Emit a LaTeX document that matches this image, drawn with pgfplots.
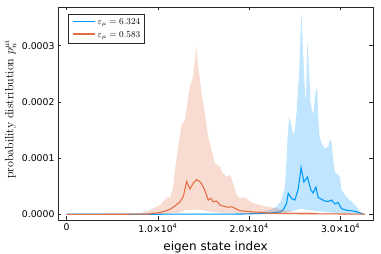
\documentclass[border=0pt]{standalone}
\usepackage{pgfplots}
\pgfplotsset{compat=1.18}
\usepackage{fontspec}
\newfontfamily\dejavu{DejaVu Sans}
\definecolor{jblue}{RGB}{0,154,250}
\definecolor{jorange}{RGB}{227,111,71}
\definecolor{axframe}{RGB}{40,40,40}
\begin{document}
\begin{tikzpicture}
\useasboundingbox (-58pt,-34pt) rectangle (323pt,220pt);
\begin{axis}[
  at={(0,0)}, anchor=south west,
  scale only axis, width=315pt, height=213pt,
  xmin=-930, xmax=33550, ymin=-1.01e-5, ymax=3.689e-4,
  axis line style={axframe, line width=0.7pt},
  tick align=inside, major tick length=3.5pt,
  tick style={axframe, line width=0.5pt},
  xtick={0,10000,20000,30000},
  xticklabels={0,1.0×10\textsuperscript{4},2.0×10\textsuperscript{4},3.0×10\textsuperscript{4}},
  ytick={0,1e-4,2e-4,3e-4},
  yticklabels={0.0000,0.0001,0.0002,0.0003},
  scaled y ticks=false, scaled x ticks=false,
  tick label style={font=\dejavu\fontsize{9.3}{10}\selectfont, text=black},
  xlabel={eigen state index},
  ylabel={probability distribution $p_n^{\mu i}$},
  every axis x label/.style={at={(axis description cs:0.5,0)}, anchor=base, yshift=-31pt, font=\dejavu\fontsize{12}{14}\selectfont},
  every axis y label/.style={at={(axis description cs:-0.152,0.519)}, rotate=90, anchor=center, font=\fontsize{12}{14}\selectfont},
  legend style={at={(axis description cs:0.032,0.967)}, anchor=north west, draw=axframe, line width=0.5pt, font=\fontsize{9}{10}\selectfont, inner sep=2.2pt, row sep=1.5pt, column sep=0pt},
  legend cell align=left,
  legend image code/.code={},
]
% blue band: upper edge forward, lower edge backward
\addplot[draw=none, fill=jblue, fill opacity=0.25, forget plot] coordinates {
(1,0.3e-6) (18000,0.6e-6) (20077,2.3e-6) (21171,4.1e-6) (22265,7.7e-6) (22998,13.5e-6)
(23545,25.4e-6) (23906,49.1e-6) (24092,96.6e-6) (24201,138.1e-6) (24376,173.7e-6)
(24639,155.9e-6) (24814,141.1e-6) (25000,150.0e-6) (25186,182.0e-6) (25470,253.7e-6)
(25624,324.9e-6) (25733,357.7e-6) (25908,283.5e-6) (26094,221.2e-6) (26203,198.0e-6)
(26368,309.0e-6) (26565,253.7e-6) (26718,198.0e-6) (27003,176.7e-6) (27298,221.2e-6)
(27440,224.2e-6) (27550,176.7e-6) (27681,141.1e-6) (27922,126.3e-6) (28283,117.4e-6)
(28644,120.3e-6) (28830,132.2e-6) (29016,129.2e-6) (29191,96.6e-6) (29377,75.8e-6)
(29924,66.9e-6) (30110,43.2e-6) (30657,30.8e-6) (31204,22.4e-6) (31751,13.5e-6)
(32112,4.6e-6) (32473,0.5e-6)
(32473,0) (30110,1.5e-6) (29016,3e-6) (27298,6e-6) (26368,8e-6) (25679,10e-6)
(24267,4e-6) (23720,1.2e-6) (22626,0.4e-6) (20000,0.1e-6) (1,0)
};
% blue mean
\addplot[color=jblue, line width=1.1pt] coordinates {
(1,0.2e-6) (10000,0.2e-6) (18982,0.5e-6) (21171,1.4e-6) (22626,2.8e-6) (23359,4.4e-6)
(23720,7.7e-6) (24092,19.6e-6) (24267,37.4e-6) (24639,28.1e-6) (25000,25.4e-6)
(25361,45.0e-6) (25679,83.3e-6) (25985,57.5e-6) (26368,66.4e-6) (26751,43.2e-6)
(27003,37.9e-6) (27298,48.6e-6) (27550,29.9e-6) (27922,26.7e-6) (28283,23.7e-6)
(28644,22.8e-6) (29016,25.4e-6) (29377,18.3e-6) (29738,21.0e-6) (30110,10.0e-6)
(30657,7.3e-6) (31379,5.9e-6) (31926,3.6e-6) (32473,0.5e-6)
};
% orange band
\addplot[draw=none, fill=jorange, fill opacity=0.25, forget plot] coordinates {
(1,0.2e-6) (6947,0.9e-6) (8042,1.8e-6) (9136,7.7e-6) (10230,16.5e-6) (10777,25.4e-6)
(11138,31.3e-6) (11324,28.5e-6) (11685,49.1e-6) (11871,78.8e-6) (12232,120.3e-6)
(12604,160e-6) (12965,167.6e-6) (13326,208.7e-6) (13512,226.5e-6) (13873,246.1e-6)
(14059,274.6e-6) (14201,299.5e-6) (14420,262.6e-6) (14792,215.3e-6) (15153,179.7e-6)
(15339,155.9e-6) (15514,138.1e-6) (15886,114.4e-6) (16247,90.7e-6) (16794,84.7e-6)
(16980,75.8e-6) (17155,73.0e-6) (17527,66.9e-6) (17888,69.9e-6) (18250,55.2e-6)
(18622,34.3e-6) (18982,28.5e-6) (19530,30.3e-6) (20077,22.8e-6) (20810,18.3e-6)
(21904,13.5e-6) (22998,10.7e-6) (23720,7.7e-6) (24814,4.6e-6) (26280,4.1e-6)
(27736,2.7e-6) (29924,1.4e-6) (32659,0.5e-6)
(32659,0) (22265,0.3e-6) (20077,0.7e-6) (18982,1e-6) (18435,1.8e-6) (17155,2.5e-6)
(16061,4e-6) (15263,6e-6) (14606,8.5e-6) (13873,8e-6) (13151,8e-6) (12418,3.4e-6)
(11324,1.3e-6) (9000,0.1e-6) (1,0)
};
% orange mean
\addplot[color=jorange, line width=1.1pt] coordinates {
(1,0) (3000,0) (6000,0.1e-6) (9000,0.5e-6) (9497,1.8e-6) (10011,2.7e-6) (10591,4.6e-6)
(10996,6.8e-6) (11324,8.9e-6) (11871,14.8e-6) (12418,22.4e-6) (12779,31.3e-6)
(13151,58.4e-6) (13512,45.0e-6) (13873,55.2e-6) (14245,61.9e-6) (14606,58.0e-6)
(14967,49.1e-6) (15263,37.4e-6) (15514,25.4e-6) (15777,28.5e-6) (16061,22.4e-6)
(16433,23.7e-6) (16794,16.5e-6) (17155,14.8e-6) (17702,12.5e-6) (18074,13.5e-6)
(18435,10.7e-6) (18982,6.4e-6) (20077,4.6e-6) (21171,3.6e-6) (22265,1.8e-6)
(24453,1.2e-6) (27736,0.9e-6) (31018,0.5e-6) (32659,0.2e-6)
};
\legend{{\color{jblue}\rule[0.28em]{22pt}{1.1pt}}\ $\varepsilon_\mu = 6.324$, {\color{jorange}\rule[0.28em]{22pt}{1.1pt}}\ $\varepsilon_\mu = 0.583$}
\end{axis}
\end{tikzpicture}
\end{document}
